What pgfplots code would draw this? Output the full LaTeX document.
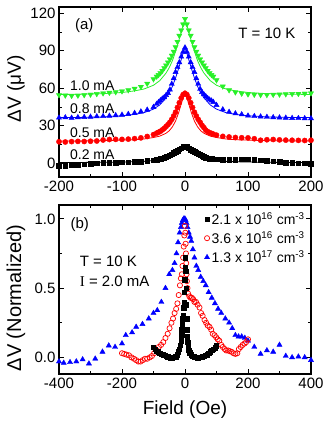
\documentclass[border=0pt]{standalone}
\usepackage{pgfplots}
\pgfplotsset{compat=1.18}
\usepackage{fontspec}
\setmainfont{Liberation Sans}
\newfontfamily\seriffont{Liberation Serif}
\definecolor{mygreen}{RGB}{40,240,40}
\definecolor{myblue}{RGB}{0,0,255}
\definecolor{myred}{RGB}{255,0,0}
\pgfplotsset{
  base/.style={
    scale only axis, width=252pt,
    axis line style={line width=1.1pt},
    tick align=inside,
    major tick length=5pt, minor tick length=3pt,
    every tick/.style={black, line width=0.9pt},
    minor x tick num=1, minor y tick num=1,
    /pgf/number format/assume math mode=true,
    ticklabel style={font=\fontsize{15}{17}\selectfont},
    label style={font=\fontsize{19}{22}\selectfont},
  },
  fitline/.style={no marks, line width=0.8pt},
}
\begin{document}
\begin{tikzpicture}
\useasboundingbox (-59pt,-49pt) rectangle (268pt,374pt);
% ---------------- (a) ----------------
\begin{axis}[base, height=170pt, at={(0pt,197pt)}, anchor=south west,
  xmin=-200, xmax=200, ymin=-11, ymax=125,
  xtick={-200,-100,0,100,200}, ytick={0,30,60,90,120},
  ylabel={ΔV (μV)},
  ylabel style={at={(axis description cs:-0.171,0.518)}, anchor=center},
]
% fits
\addplot[fitline, black] table {
-200 0.6
-160 0.67
-130 0.76
-100 0.96
-80 1.2
-65 1.5
-50 2.2
-40 3.0
-30 4.3
-25 5.2
-20 6.4
-15 7.9
-10 9.7
-6 11.3
-3 12.5
0 13.5
3 12.5
6 11.3
10 9.7
15 7.9
20 6.4
25 5.2
30 4.3
40 3.0
50 2.2
65 1.5
80 1.2
100 0.96
130 0.76
160 0.67
200 0.6
};
\addplot[fitline, myred] table {
-200 17.7
-160 17.9
-130 18.1
-100 18.5
-80 18.8
-65 19.4
-50 20.6
-40 21.7
-30 24.0
-25 26.0
-20 29.1
-15 33.7
-10 40.6
-6 47.5
-3 52.2
0 56.0
3 52.2
6 47.5
10 40.6
15 33.7
20 29.1
25 26.0
30 24.0
40 21.7
50 20.6
65 19.4
80 18.8
100 18.5
130 18.1
160 17.9
200 17.7
};
\addplot[fitline, myblue] table {
-200 36.5
-160 36.7
-130 37.1
-100 38.0
-80 39.1
-65 40.5
-50 43.3
-40 46.7
-30 52.4
-25 56.3
-20 61.4
-15 68.2
-10 76.1
-6 82.9
-3 88.0
0 92.5
3 88.0
6 82.9
10 76.1
15 68.2
20 61.4
25 56.3
30 52.4
40 46.7
50 43.3
65 40.5
80 39.1
100 38.0
130 37.1
160 36.7
200 36.5
};
\addplot[fitline, mygreen] table {
-200 55.0
-160 55.3
-130 55.7
-100 56.6
-80 57.9
-65 59.4
-50 62.4
-40 66.1
-30 72.2
-25 76.5
-20 82.0
-15 89.3
-10 97.8
-6 105.1
-3 110.6
0 115.5
3 110.6
6 105.1
10 97.8
15 89.3
20 82.0
25 76.5
30 72.2
40 66.1
50 62.4
65 59.4
80 57.9
100 56.6
130 55.7
160 55.3
200 55.0
};
% markers
\addplot[only marks, mark=square*, mark size=2.3pt, black] table {
-200 -2.0
-190 -1.8
-180 -1.5
-170 -1.2
-160 -0.8
-150 -0.3
-140 0.0
-130 0.2
-120 0.4
-110 0.6
-100 0.7
-90 0.9
-80 1.1
-70 1.4
-60 1.9
-50 2.5
-45 2.9
-42 3.3
-39 3.7
-36 4.1
-33 4.6
-30 5.1
-27 5.7
-24 6.4
-21 7.3
-18 8.2
-15 9.1
-12 10.1
-9 11.1
-6 12.1
-3 13.0
0 13.5
3 13.0
6 12.0
9 11.0
12 10.0
15 9.1
18 8.3
21 7.5
24 6.8
27 6.0
30 5.2
33 4.5
36 4.0
39 3.6
42 3.4
45 3.2
50 3.1
60 3.0
70 2.9
80 3.0
90 3.2
100 3.3
110 3.0
120 2.5
130 2.0
140 1.5
150 1.0
160 0.6
170 0.3
180 0.1
190 0.0
200 -0.2
};
\addplot[only marks, mark=*, mark size=2.6pt, myred] table {
-200 17.2
-190 17.0
-180 17.3
-170 17.5
-160 17.4
-150 17.6
-140 17.8
-130 18.6
-120 19.0
-110 19.1
-100 19.1
-90 19.3
-80 19.7
-70 20.3
-60 21.4
-50 22.9
-45 24.1
-42 24.8
-39 25.6
-36 26.7
-33 27.9
-30 29.4
-27 30.9
-24 32.8
-21 35.1
-18 37.8
-15 40.8
-12 44.6
-9 48.4
-6 52.2
-3 54.9
0 56.0
3 54.9
6 52.2
9 48.4
12 44.6
15 40.8
18 37.8
21 35.1
24 32.8
27 30.4
30 28.5
33 26.5
36 25.3
39 24.5
42 23.9
45 23.3
50 22.5
60 21.5
70 21.0
80 20.6
90 20.4
100 20.3
110 19.6
120 18.4
130 18.8
140 19.0
150 18.7
160 18.5
170 18.4
180 18.3
190 18.2
200 18.4
};
\addplot[only marks, mark=triangle*, mark size=3pt, myblue] table {
-200 36.4
-190 36.6
-180 36.3
-170 36.7
-160 36.9
-150 37.1
-140 37.4
-130 37.6
-120 37.9
-110 38.3
-100 38.7
-90 39.3
-80 40.1
-70 41.3
-60 42.7
-50 44.9
-45 47.4
-42 48.8
-39 50.2
-36 51.6
-33 52.7
-30 54.4
-27 56.1
-24 58.9
-21 63.4
-18 67.9
-15 72.9
-12 76.8
-9 80.7
-6 85.2
-3 89.1
0 92.5
3 89.1
6 85.2
9 80.7
12 76.8
15 72.9
18 67.9
21 63.4
24 59.4
27 56.8
30 55.0
33 53.5
36 52.0
39 50.8
42 50.0
45 48.9
50 46.5
60 43.0
70 41.0
80 39.8
90 39.0
100 38.0
110 37.6
120 37.3
130 37.0
140 36.7
150 36.5
160 36.3
170 36.1
180 36.0
190 35.9
200 35.8
};
\addplot[only marks, mark=triangle*, mark size=3pt, mark options={rotate=180}, mygreen] table {
-200 54.6
-190 54.3
-180 54.0
-170 54.2
-160 54.6
-150 55.0
-140 55.5
-130 56.0
-120 56.5
-110 57.0
-100 57.6
-90 58.5
-80 59.7
-70 61.2
-60 63.7
-50 67.3
-45 69.4
-42 70.7
-39 72.2
-36 74.0
-33 76.2
-30 78.3
-27 80.7
-24 83.2
-21 86.2
-18 89.3
-15 92.9
-12 97.2
-9 102.1
-6 106.4
-3 111.2
0 115.5
3 111.2
6 106.4
9 102.1
12 97.2
15 92.9
18 89.3
21 86.2
24 83.2
27 80.7
30 78.3
33 76.2
36 74.0
39 72.2
42 70.7
45 69.4
50 66.5
60 61.5
70 58.5
80 56.8
90 55.8
100 55.2
110 54.9
120 54.7
130 54.7
140 54.9
150 55.1
160 55.3
170 55.5
180 55.6
190 55.8
200 56.0
};
\node[anchor=center, font=\fontsize{15}{17}\selectfont] at (axis cs:-160,110.4) {(a)};
\node[anchor=center, font=\fontsize{15}{17}\selectfont] at (axis cs:130,104) {T = 10 K};
\node[anchor=west, font=\fontsize{14}{16}\selectfont] at (axis cs:-188,62.4) {1.0 mA};
\node[anchor=west, font=\fontsize{14}{16}\selectfont] at (axis cs:-188,44) {0.8 mA};
\node[anchor=west, font=\fontsize{14}{16}\selectfont] at (axis cs:-188,24.8) {0.5 mA};
\node[anchor=west, font=\fontsize{14}{16}\selectfont] at (axis cs:-188,7.2) {0.2 mA};
\end{axis}
% ---------------- (b) ----------------
\begin{axis}[base, height=169pt, at={(0pt,0pt)}, anchor=south west,
  xmin=-400, xmax=400, ymin=-0.12, ymax=1.1,
  xtick={-400,-200,0,200,400}, ytick={0,0.5,1.0},
  yticklabel style={/pgf/number format/.cd, fixed, fixed zerofill, precision=1},
  xlabel={Field (Oe)},
  xlabel style={at={(axis description cs:0.5,-0.213)}, anchor=center},
  ylabel={ΔV (Normalized)},
  ylabel style={at={(axis description cs:-0.171,0.45)}, anchor=center, font=\fontsize{20}{23}\selectfont},
  legend style={draw=none, fill=none, at={(axis cs:390,1.07)}, anchor=north east,
    font=\fontsize{14}{16}\selectfont, row sep=1.5pt, inner sep=1pt},
  legend cell align=left, reverse legend,
]
\addplot[only marks, mark=triangle*, mark size=3pt, myblue] table {
-400 -0.03
-385 -0.04
-365 -0.035
-345 -0.03
-325 -0.015
-305 -0.045
-285 -0.01
-262 0.04
-242 0.085
-222 0.075
-200 0.10
-188 0.16
-168 0.18
-155 0.22
-135 0.24
-115 0.28
-100 0.32
-88 0.34
-75 0.40
-62 0.50
-50 0.60
-40 0.63
-33 0.68
-27 0.75
-22 0.83
-17 0.90
-13 0.94
-10 0.97
-7 0.99
-4 1.00
-2 1.00
0 1.00
2 0.99
5 0.97
8 0.94
12 0.90
16 0.87
20 0.84
25 0.78
30 0.72
36 0.66
42 0.63
50 0.58
58 0.55
66 0.52
75 0.47
85 0.43
95 0.39
105 0.35
115 0.32
128 0.28
140 0.25
150 0.21
160 0.16
170 0.15
180 0.15
190 0.14
200 0.12
220 0.075
240 0.025
260 0.05
280 0.04
300 0.09
320 0.01
340 0.0
360 0.005
380 0.0
400 -0.02
};
\addlegendentry{1.3 x 10\textsuperscript{17} cm\textsuperscript{-3}}
\addplot[only marks, mark=o, mark size=2.6pt, line width=0.7pt, myred] table {
-200 0.03
-193 0.025
-186 0.02
-178 0.015
-170 0.0
-162 -0.01
-155 -0.02
-148 -0.03
-141 -0.03
-134 -0.02
-127 -0.01
-120 -0.01
-112 0.0
-105 0.01
-98 0.03
-90 0.05
-83 0.075
-76 0.09
-69 0.11
-62 0.14
-55 0.17
-49 0.21
-43 0.25
-38 0.28
-33 0.32
-28 0.35
-24 0.39
-20 0.45
-16 0.52
-13 0.57
-10 0.60
-8 0.66
-6 0.72
-4 0.80
-2 0.88
0 0.95
1 0.90
2 0.82
3 0.75
4 0.68
5 0.60
6 0.55
8 0.50
10 0.46
14 0.44
18 0.43
22 0.43
26 0.42
30 0.40
35 0.40
40 0.38
46 0.36
51 0.32
56 0.30
62 0.27
67 0.25
72 0.23
78 0.22
83 0.20
88 0.17
94 0.16
99 0.145
104 0.13
109 0.12
115 0.09
120 0.075
126 0.06
131 0.05
137 0.05
142 0.045
148 0.04
154 0.03
160 0.025
166 0.03
171 0.06
177 0.075
183 0.09
189 0.10
194 0.11
200 0.13
};
\addlegendentry{3.6 x 10\textsuperscript{16} cm\textsuperscript{-3}}
\addplot[only marks, mark=square*, mark size=2.2pt, black] table {
-100 0.075
-95 0.06
-90 0.045
-85 0.04
-80 0.03
-75 0.025
-70 0.02
-65 0.015
-60 0.01
-55 0.005
-50 0.0
-45 -0.005
-40 -0.005
-35 0.0
-30 0.005
-25 0.02
-21 0.04
-18 0.06
-15 0.09
-13 0.12
-11 0.16
-10 0.20
-8 0.24
-7 0.28
-6 0.30
-4 0.36
-3 0.40
-2 0.47
-1 0.56
0 0.65
1 0.72
2 0.62
3 0.50
4 0.38
5 0.28
6 0.20
7 0.15
8 0.11
10 0.08
12 0.05
15 0.035
20 0.02
25 0.01
30 0.005
35 0.0
40 -0.002
45 0.0
50 0.002
55 0.005
60 0.01
65 0.015
70 0.02
75 0.03
80 0.04
85 0.05
90 0.06
95 0.07
100 0.085
};
\addlegendentry{2.1 x 10\textsuperscript{16} cm\textsuperscript{-3}}
\node[anchor=center, font=\fontsize{15}{17}\selectfont] at (axis cs:-334,0.957) {(b)};
\node[anchor=west, font=\fontsize{15}{17}\selectfont] at (axis cs:-345,0.69) {T = 10 K};
\node[anchor=west, font=\fontsize{15}{17}\selectfont] at (axis cs:-345,0.546) {{\seriffont I} = 2.0 mA};
\end{axis}
\end{tikzpicture}
\end{document}
